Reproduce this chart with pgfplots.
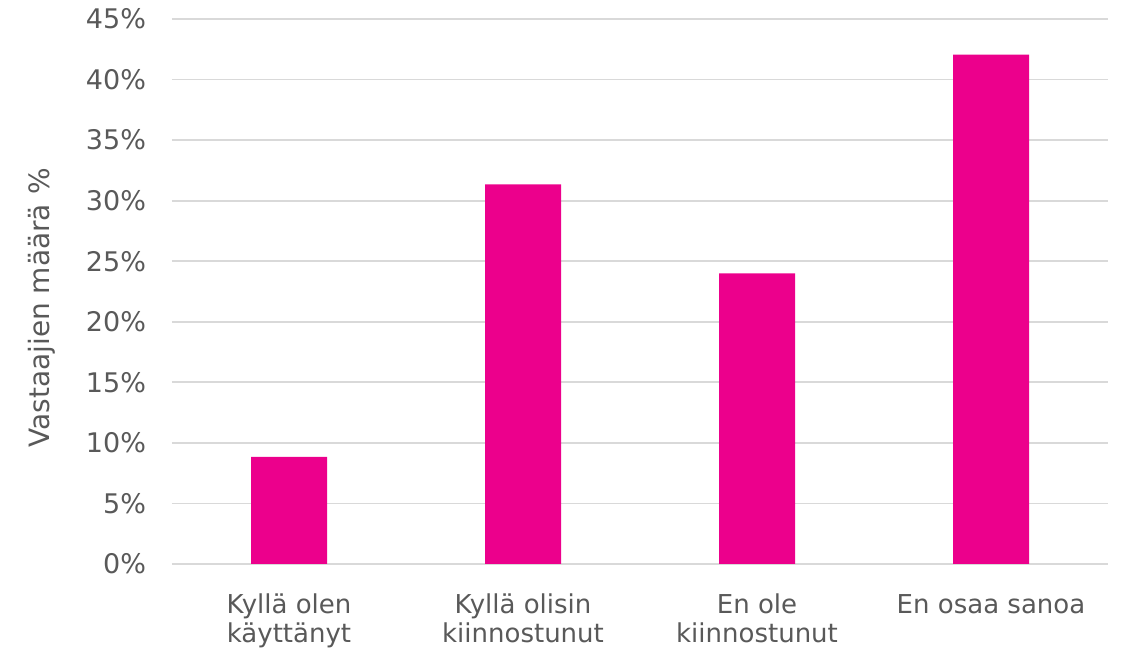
\documentclass[border=0pt]{standalone}
\usepackage{pgfplots}
\pgfplotsset{compat=1.18}
\usepackage{fontspec}
\setmainfont{DejaVu Sans}
\definecolor{barc}{HTML}{EC008C}
\definecolor{gridc}{HTML}{D9D9D9}
\definecolor{txt}{HTML}{595959}
\begin{document}
\begin{tikzpicture}
\useasboundingbox (-86pt,-43.5pt) rectangle (475pt,282pt);
\begin{axis}[
  at={(0,0)}, anchor=south west,
  scale only axis,
  width=468pt, height=272.5pt,
  xmin=-0.5, xmax=3.5,
  ymin=0, ymax=45,
  ytick={0,5,...,45},
  yticklabels={0\%,5\%,10\%,15\%,20\%,25\%,30\%,35\%,40\%,45\%},
  xtick={0,1,2,3},
  xticklabels={{Kyllä olen\\käyttänyt},{Kyllä olisin\\kiinnostunut},{En ole\\kiinnostunut},{En osaa sanoa}},
  xticklabel style={align=center, font=\fontsize{13}{14.5}\selectfont, text=txt, yshift=-11.5pt, anchor=north},
  yticklabel style={font=\fontsize{13.5}{16}\selectfont, text=txt, xshift=-9.5pt},
  major tick length=0pt,
  ymajorgrids,
  grid style={gridc, line width=0.9pt},
  axis line style={draw=none},
  axis x line*=bottom,
  axis y line*=left,
  extra y ticks={0},
  extra y tick labels={},
  extra y tick style={grid style={gridc, line width=1pt}},
  ybar, bar width=38pt,
  clip=false,
]
\addplot[fill=barc, draw=none] coordinates {(0,8.85) (1,31.35) (2,24.0) (3,42.05)};
\end{axis}
\node[rotate=90, text=txt, font=\fontsize{14}{16}\selectfont] at (-65pt,128pt) {Vastaajien määrä \%};
\end{tikzpicture}
\end{document}
